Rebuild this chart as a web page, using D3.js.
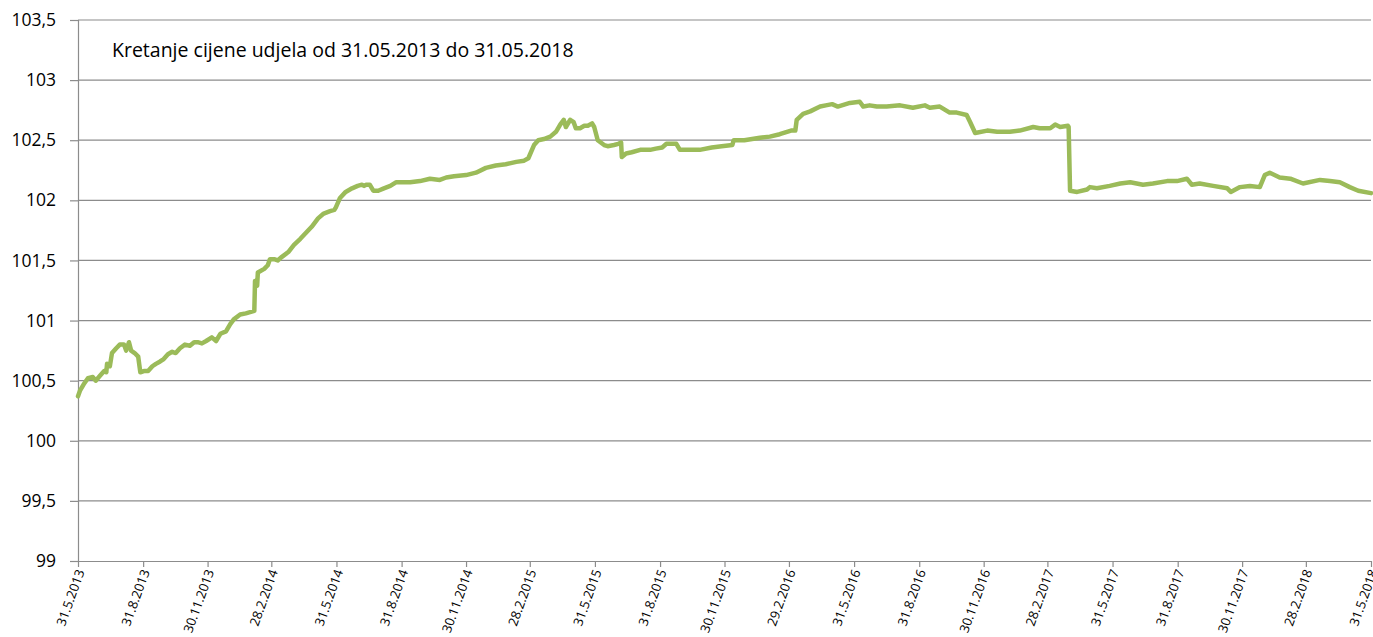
<!DOCTYPE html>
<html>
<head>
<meta charset="utf-8">
<script src="https://cdn.jsdelivr.net/npm/d3@7"></script>
<style>
  body { margin: 0; background: #fff; }
  svg text { font-family: "Open Sans", "Noto Sans", sans-serif; fill: #000; }
</style>
</head>
<body>
<svg id="chart" width="1373" height="637"></svg>
<script>
// price of a fund unit
var dates = ["2013-05-31","2013-06-03","2013-06-08","2013-06-14","2013-06-21","2013-06-25","2013-07-01","2013-07-07","2013-07-10","2013-07-11",
  "2013-07-15","2013-07-18","2013-07-24","2013-07-29","2013-08-04","2013-08-07","2013-08-11","2013-08-14","2013-08-19","2013-08-24",
  "2013-08-27","2013-09-01","2013-09-07","2013-09-13","2013-09-18","2013-09-24","2013-09-29","2013-10-05","2013-10-11","2013-10-16",
  "2013-10-22","2013-10-29","2013-11-05","2013-11-11","2013-11-16","2013-11-22","2013-11-28","2013-12-06","2013-12-12","2013-12-18",
  "2013-12-26","2014-01-01","2014-01-06","2014-01-15","2014-01-23","2014-01-29","2014-02-04","2014-02-05","2014-02-08","2014-02-09",
  "2014-02-18","2014-02-23","2014-02-26","2014-03-04","2014-03-09","2014-03-15","2014-03-24","2014-04-01","2014-04-10","2014-04-18",
  "2014-04-26","2014-05-05","2014-05-13","2014-05-22","2014-05-28","2014-05-30","2014-06-05","2014-06-13","2014-06-22","2014-06-30",
  "2014-07-06","2014-07-09","2014-07-12","2014-07-17","2014-07-22","2014-07-29","2014-08-06","2014-08-15","2014-08-23","2014-09-01",
  "2014-09-12","2014-09-26","2014-10-10","2014-10-24","2014-11-02","2014-11-13","2014-11-30","2014-12-14","2014-12-28","2015-01-11",
  "2015-01-25","2015-02-09","2015-02-20","2015-02-26","2015-03-06","2015-03-12","2015-03-20","2015-03-29","2015-04-06","2015-04-12",
  "2015-04-17","2015-04-20","2015-04-26","2015-05-01","2015-05-04","2015-05-10","2015-05-16","2015-05-21","2015-05-27","2015-05-30",
  "2015-06-04","2015-06-13","2015-06-18","2015-06-27","2015-07-03","2015-07-07","2015-07-08","2015-07-14","2015-07-22","2015-08-03",
  "2015-08-17","2015-08-25","2015-09-03","2015-09-09","2015-09-17","2015-09-23","2015-09-28","2015-10-12","2015-10-26","2015-11-12",
  "2015-11-26","2015-12-11","2015-12-13","2015-12-28","2016-01-19","2016-02-02","2016-02-16","2016-03-03","2016-03-09","2016-03-11",
  "2016-03-20","2016-03-30","2016-04-13","2016-04-21","2016-04-30","2016-05-08","2016-05-25","2016-06-08","2016-06-13","2016-06-22",
  "2016-07-02","2016-07-16","2016-08-04","2016-08-22","2016-09-08","2016-09-15","2016-09-29","2016-10-13","2016-10-23","2016-11-06",
  "2016-11-11","2016-11-18","2016-12-05","2016-12-19","2017-01-06","2017-01-20","2017-02-08","2017-02-17","2017-03-04","2017-03-11",
  "2017-03-18","2017-03-29","2017-03-30","2017-04-01","2017-04-11","2017-04-25","2017-04-29","2017-05-09","2017-05-27","2017-06-11",
  "2017-06-25","2017-07-13","2017-07-27","2017-08-16","2017-08-30","2017-09-13","2017-09-20","2017-10-01","2017-10-20","2017-11-09",
  "2017-11-14","2017-11-27","2017-12-11","2017-12-25","2018-01-01","2018-01-08","2018-01-22","2018-02-06","2018-02-24","2018-03-20",
  "2018-04-03","2018-04-17","2018-05-01","2018-05-13","2018-05-31"];

var prices = [100.37,100.42,100.47,100.52,100.53,100.50,100.54,100.58,100.57,100.64,
  100.62,100.73,100.77,100.80,100.80,100.75,100.82,100.75,100.73,100.70,
  100.57,100.58,100.58,100.62,100.64,100.66,100.68,100.72,100.74,100.73,
  100.77,100.80,100.79,100.82,100.82,100.81,100.83,100.86,100.83,100.89,
  100.91,100.97,101.01,101.05,101.06,101.07,101.08,101.33,101.29,101.40,
  101.43,101.46,101.51,101.51,101.50,101.53,101.57,101.63,101.68,101.73,
  101.78,101.85,101.89,101.91,101.92,101.94,102.02,102.07,102.10,102.12,
  102.13,102.12,102.13,102.13,102.08,102.08,102.10,102.12,102.15,102.15,
  102.15,102.16,102.18,102.17,102.19,102.20,102.21,102.23,102.27,102.29,
  102.30,102.32,102.33,102.35,102.46,102.50,102.51,102.53,102.57,102.63,
  102.67,102.61,102.67,102.65,102.60,102.60,102.62,102.62,102.64,102.61,
  102.50,102.46,102.45,102.46,102.47,102.48,102.36,102.39,102.40,102.42,
  102.42,102.43,102.44,102.47,102.47,102.47,102.42,102.42,102.42,102.44,
  102.45,102.46,102.50,102.50,102.52,102.53,102.55,102.58,102.58,102.67,
  102.72,102.74,102.78,102.79,102.80,102.78,102.81,102.82,102.78,102.79,
  102.78,102.78,102.79,102.77,102.79,102.77,102.78,102.73,102.73,102.71,
  102.65,102.56,102.58,102.57,102.57,102.58,102.61,102.60,102.60,102.63,
  102.61,102.62,102.61,102.08,102.07,102.09,102.11,102.10,102.12,102.14,
  102.15,102.13,102.14,102.16,102.16,102.18,102.13,102.14,102.12,102.10,
  102.07,102.11,102.12,102.11,102.21,102.23,102.19,102.18,102.14,102.17,
  102.16,102.15,102.11,102.08,102.06];

var tickDates = ["2013-05-31","2013-08-31","2013-11-30","2014-02-28","2014-05-31","2014-08-31","2014-11-30",
  "2015-02-28","2015-05-31","2015-08-31","2015-11-30","2016-02-29","2016-05-31","2016-08-31","2016-11-30",
  "2017-02-28","2017-05-31","2017-08-31","2017-11-30","2018-02-28","2018-05-31"];
var yTicks = [99, 99.5, 100, 100.5, 101, 101.5, 102, 102.5, 103, 103.5];
var title = "Kretanje cijene udjela od 31.05.2013 do 31.05.2018";

var parse = d3.timeParse("%Y-%m-%d");
var locale = d3.formatLocale({decimal: ",", thousands: ".", grouping: [3], currency: ["", ""]});
var fmtY = locale.format(".1~f");
var fmtX = d3.timeFormat("%-d.%-m.%Y");

var svg = d3.select("#chart");
var plotLeft = 78, plotRight = 1371, plotTop = 20, plotBottom = 561;

var x = d3.scaleTime()
    .domain([parse(tickDates[0]), parse(tickDates[tickDates.length - 1])])
    .range([plotLeft, plotRight]);
var y = d3.scaleLinear().domain([99, 103.5]).range([plotBottom, plotTop]);

// gridlines
svg.append("g").selectAll("line")
    .data(yTicks.slice(1))
    .enter().append("line")
    .attr("x1", plotLeft).attr("x2", plotRight)
    .attr("y1", function(d) { return y(d); })
    .attr("y2", function(d) { return y(d); })
    .attr("stroke", "#8c8c8c").attr("stroke-width", 1.2);

// y axis
var yAxis = svg.append("g")
    .attr("transform", "translate(" + plotLeft + ",0)")
    .call(d3.axisLeft(y).tickValues(yTicks).tickFormat(fmtY).tickSize(8).tickPadding(14));
yAxis.select(".domain").attr("stroke", "#8c8c8c").attr("stroke-width", 1.2);
yAxis.selectAll(".tick line").attr("stroke", "#8c8c8c").attr("stroke-width", 1.2);
yAxis.selectAll("text").attr("font-size", 17.5).attr("font-family", "'Open Sans', sans-serif");

// x axis
var xAxis = svg.append("g")
    .attr("transform", "translate(0," + plotBottom + ")")
    .call(d3.axisBottom(x).tickValues(tickDates.map(parse)).tickFormat(fmtX).tickSize(6).tickSizeOuter(0));
xAxis.select(".domain").attr("stroke", "#8c8c8c").attr("stroke-width", 1.2);
xAxis.selectAll(".tick line").attr("stroke", "#8c8c8c").attr("stroke-width", 1.2);
xAxis.selectAll("text")
    .attr("font-size", 13)
    .attr("font-family", "'Open Sans', sans-serif")
    .attr("text-anchor", "end")
    .attr("dy", "0.35em")
    .attr("transform", "translate(2,9) rotate(-70)")
    .attr("y", 0).attr("x", 0);

// price line
var data = dates.map(function(d, i) { return {date: parse(d), value: prices[i]}; });
var line = d3.line()
    .x(function(d) { return x(d.date); })
    .y(function(d) { return y(d.value); });
svg.append("path")
    .datum(data)
    .attr("d", line)
    .attr("fill", "none")
    .attr("stroke", "#9bbb59")
    .attr("stroke-width", 4.5)
    .attr("stroke-linejoin", "round")
    .attr("stroke-linecap", "round");

svg.append("text")
    .attr("x", 112).attr("y", 57)
    .attr("font-size", 19.5)
    .text(title);
</script>
</body>
</html>
